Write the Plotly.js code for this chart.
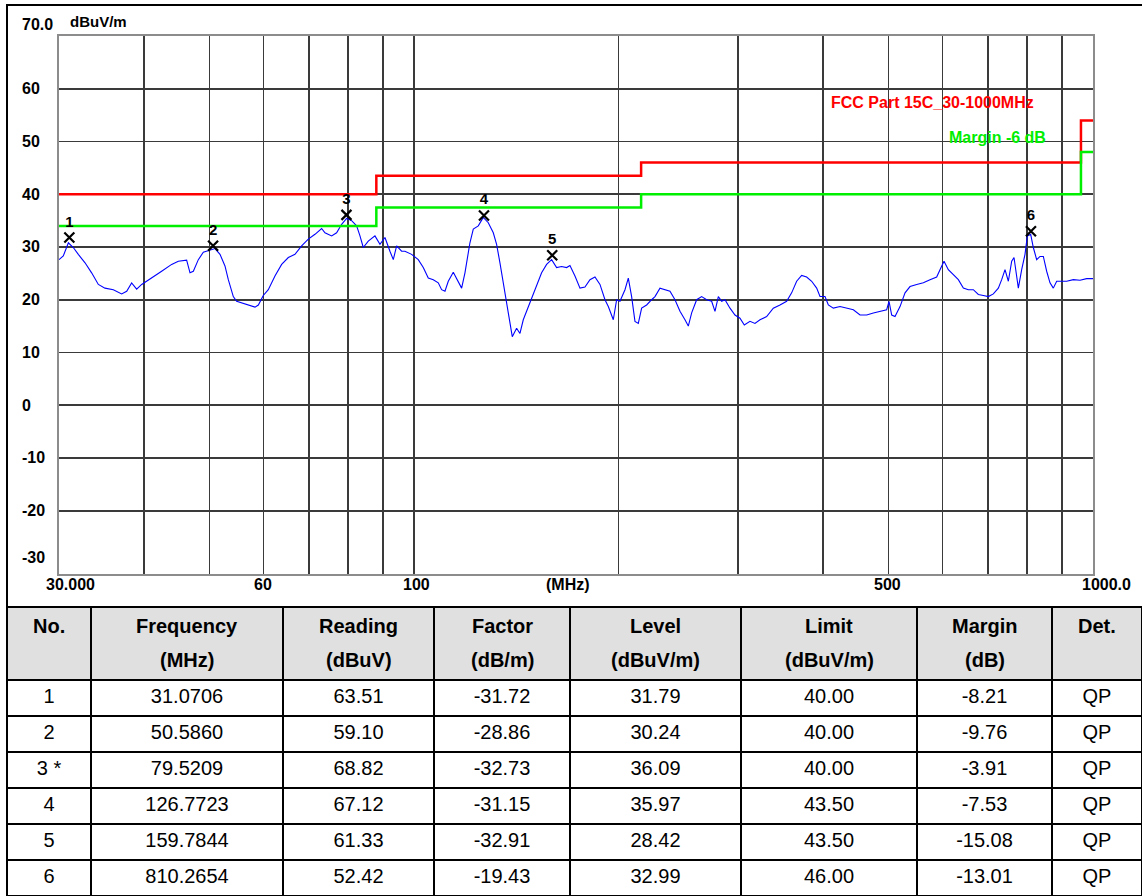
<!DOCTYPE html>
<html><head><meta charset="utf-8">
<script src="https://cdn.plot.ly/plotly-3.0.1.min.js"></script>
<style>html,body{margin:0;padding:0;background:#fff;} #chart{width:1142px;height:896px;}</style>
</head><body><div id="chart"></div>
<script>
// ---- spectrum trace (MHz, dBuV/m) ----
const traceFreq = [30.00,30.44,30.97,31.49,32.03,32.77,33.51,34.28,35.06,36.07,37.10,37.74,38.38,39.04,39.71,41.08,42.49,43.96,44.96,46.25,46.78,47.31,48.12,48.94,50.34,50.92,51.79,52.67,53.27,54.18,54.80,55.74,57.01,58.31,58.98,59.98,61.01,62.40,63.83,65.29,66.78,68.31,69.87,71.47,73.10,73.93,75.62,76.91,78.23,79.57,80.93,82.31,83.25,84.19,85.63,87.59,89.09,90.61,92.16,93.21,94.27,95.88,
96.97,99.19,101.45,103.19,104.95,106.75,108.57,109.81,111.06,112.32,114.24,115.54,117.52,118.85,120.88,122.26,124.35,126.47,128.64,130.84,132.32,133.83,135.35,136.89,138.44,139.54,141.61,143.22,144.85,147.32,149.00,151.55,154.14,156.78,159.46,162.19,164.96,167.78,169.69,172.60,175.55,178.55,181.61,184.71,187.87,191.09,193.26,196.56,198.80,201.06,204.50,206.82,209.17,211.55,213.96,216.39,220.09,223.86,226.40,230.27,234.21,238.22,242.29,246.44,250.65,253.50,256.39,260.77,265.23,269.77,274.38,277.50,280.66,283.85,287.08,291.99,296.96,302.04,306.51,
312.45,317.81,323.25,330.64,338.19,345.93,353.83,359.88,366.04,372.30,378.68,385.16,391.76,396.21,403.00,407.58,414.55,424.03,433.73,443.65,453.79,464.17,474.78,485.64,496.75,500.7,505.25,510.99,519.74,528.64,537.67,549.96,562.53,575.38,588.53,595.22,603.34,612.27,622.74,633.39,644.22,655.24,666.44,677.84,689.43,701.22,713.21,725.41,733.67,742.02,750.45,759.00,765.0,771.96,776.33,785.17,794.08,800.4,809.5,816.8,826.1,835.5,845.0,854.6,864.3,874.1,884.1,899.2,914.6,935.5,956.9,978.7,1000];
const traceLevel = [27.6,28.3,30.8,29.9,28.6,27.0,25.1,22.9,22.2,21.9,21.1,21.6,23.2,22.0,22.9,24.1,25.4,26.7,27.3,27.5,25.1,25.4,27.6,29.0,29.4,29.7,28.6,26.4,23.8,20.6,19.7,19.4,18.9,18.6,19.0,20.8,21.9,24.5,26.7,28.0,28.6,30.2,31.5,32.4,33.5,32.7,32.1,32.7,34.3,35.4,35.0,34.0,32.1,29.9,31.1,32.1,30.5,31.8,29.2,27.6,30.2,29.2,
29.2,28.6,27.6,26.1,24.1,23.8,23.2,21.9,21.6,23.5,25.2,24.1,22.2,25.1,30.8,33.4,34.0,35.6,34.6,32.7,30.5,27.0,23.2,19.4,16.2,13.0,14.6,13.6,16.2,18.7,20.3,22.5,25.1,26.7,27.6,26.1,26.3,26.1,26.5,24.5,22.2,22.4,23.8,24.3,22.9,20.0,18.7,16.2,20.0,19.7,21.9,24.1,20.6,15.9,15.5,18.4,19.0,20.0,20.6,22.2,21.9,21.6,20.0,17.8,16.2,15.0,17.5,20.0,20.6,20.0,19.7,17.8,20.6,19.7,20.0,18.4,17.1,16.5,15.2,
15.9,15.5,16.2,16.8,18.4,19.0,19.7,21.3,23.5,24.6,24.3,23.5,22.2,20.6,20.6,19.0,18.4,18.7,18.4,18.1,17.1,17.1,17.5,17.8,18.1,19.7,17.1,16.8,18.7,21.3,22.5,22.9,23.2,23.8,24.3,25.7,27.3,25.7,24.8,23.8,22.2,21.9,21.9,21.0,20.8,20.6,21.1,22.2,23.8,25.7,23.5,27.3,28.0,24.5,22.2,25.7,28.6,32.1,32.4,29.9,27.6,28.2,28.2,25.4,23.2,22.2,23.5,23.5,23.5,23.8,23.7,24.0,24.0];

// ---- limit lines ----
const limitFreq = [30, 88, 216, 960, 1000];
const limitLevel = [40, 43.5, 46, 54, 54];
const marginLevel = [34, 37.5, 40, 48, 48];

// ---- peak table ----
const peakNo = ['1', '2', '3 *', '4', '5', '6'];
const peakFreq = [31.0706, 50.5860, 79.5209, 126.7723, 159.7844, 810.2654];
const peakReading = [63.51, 59.10, 68.82, 67.12, 61.33, 52.42];
const peakFactor = [-31.72, -28.86, -32.73, -31.15, -32.91, -19.43];
const peakLevel = [31.79, 30.24, 36.09, 35.97, 28.42, 32.99];
const peakLimit = [40.00, 40.00, 40.00, 43.50, 43.50, 46.00];
const peakMargin = [-8.21, -9.76, -3.91, -7.53, -15.08, -13.01];
const peakDet = ['QP', 'QP', 'QP', 'QP', 'QP', 'QP'];
const headerNames = ['No.', 'Frequency', 'Reading', 'Factor', 'Level', 'Limit', 'Margin', 'Det.'];
const headerUnits = ['', '(MHz)', '(dBuV)', '(dB/m)', '(dBuV/m)', '(dBuV/m)', '(dB)', ''];

// ---- axis labels ----
const xGridVals = [40, 50, 60, 70, 80, 90, 100, 200, 300, 400, 500, 600, 700, 800, 900];
const yGridVals = [-20, -10, 0, 10, 20, 30, 40, 50, 60];
const yTickLabels = ['60', '50', '40', '30', '20', '10', '0', '-10', '-20', '-30'];
const yTickLabelVals = [60, 50, 40, 30, 20, 10, 0, -10, -20, -28.9];
const xTickLabels = ['30.000', '60', '100', '(MHz)', '500', '1000.0'];
const xTickLabelPos = [70, 263, 416, 568, 887, 1106];

const W = 1142, H = 896;
const px = v => v / W;
const py = v => 1 - v / H;
const boldFont = (size, color) => ({family: 'Liberation Sans, Arial, sans-serif', size: size, color: color || '#000', weight: 'bold'});

// table geometry
const tableLeft = 7;
const colWidths = [84, 192, 151, 136, 171, 176, 135, 90];
const colCenters = [];
colWidths.reduce((acc, w) => { colCenters.push(acc + w / 2); return acc + w; }, tableLeft);

const traces = [
  {type: 'scatter', mode: 'lines', x: traceFreq, y: traceLevel,
   line: {color: '#0000ff', width: 1.1}, hoverinfo: 'skip'},
  {type: 'scatter', mode: 'lines', x: limitFreq, y: limitLevel,
   line: {color: '#ff0000', width: 2.5, shape: 'hv'}, hoverinfo: 'skip'},
  {type: 'scatter', mode: 'lines', x: limitFreq, y: marginLevel,
   line: {color: '#00ee00', width: 2.5, shape: 'hv'}, hoverinfo: 'skip'},
  {type: 'scatter', mode: 'markers+text', x: peakFreq, y: peakLevel,
   text: peakNo.map(s => s.replace(' *', '')), textposition: 'top center',
   textfont: boldFont(15),
   marker: {symbol: 'x-thin-open', size: 10, color: '#000', line: {color: '#000', width: 2.2}},
   hoverinfo: 'skip'},
  {type: 'table',
   domain: {x: [px(tableLeft), 1], y: [0, 289 / H]},
   columnwidth: colWidths,
   header: {values: headerNames.map(() => ''), height: 73,
     align: 'center', fill: {color: '#e0e0e0'}, line: {color: '#000', width: 2},
     font: {family: 'Liberation Sans, Arial, sans-serif', size: 20, color: '#000'}},
   cells: {values: [peakNo, peakFreq.map(v => v.toFixed(4)), peakReading.map(v => v.toFixed(2)),
       peakFactor.map(v => v.toFixed(2)), peakLevel.map(v => v.toFixed(2)), peakLimit.map(v => v.toFixed(2)),
       peakMargin.map(v => v.toFixed(2)), peakDet],
     height: 36, align: 'center', fill: {color: '#fff'}, line: {color: '#000', width: 2},
     font: {family: 'Liberation Sans, Arial, sans-serif', size: 20, color: '#000'}}
  }
];

const annotations = [];
yTickLabels.forEach((t, i) => annotations.push({text: t, xref: 'paper', yref: 'y', x: px(20), y: yTickLabelVals[i],
  xanchor: 'left', yanchor: 'middle', showarrow: false, font: boldFont(16)}));
xTickLabels.forEach((t, i) => annotations.push({text: t, xref: 'paper', yref: 'paper', x: px(xTickLabelPos[i]), y: py(584),
  xanchor: 'center', yanchor: 'middle', showarrow: false, font: boldFont(16)}));
annotations.push({text: '70.0', xref: 'paper', yref: 'paper', x: px(20), y: py(24), xanchor: 'left', yanchor: 'middle', showarrow: false, font: boldFont(16)});
annotations.push({text: 'dBuV/m', xref: 'paper', yref: 'paper', x: px(68), y: py(22), xanchor: 'left', yanchor: 'middle', showarrow: false, font: boldFont(15)});
annotations.push({text: 'FCC Part 15C_30-1000MHz', xref: 'paper', yref: 'paper', x: px(829), y: py(103), xanchor: 'left', yanchor: 'middle', showarrow: false, font: boldFont(16, '#ff0000')});
annotations.push({text: 'Margin -6 dB', xref: 'paper', yref: 'paper', x: px(947), y: py(137), xanchor: 'left', yanchor: 'middle', showarrow: false, font: boldFont(16, '#00ee00')});
// table header text, two centred lines per column
headerNames.forEach((t, i) => annotations.push({text: t, xref: 'paper', yref: 'paper', x: px(colCenters[i]), y: py(626),
  xanchor: 'center', yanchor: 'middle', showarrow: false, font: boldFont(20)}));
headerUnits.forEach((t, i) => { if (t) annotations.push({text: t, xref: 'paper', yref: 'paper', x: px(colCenters[i]), y: py(660),
  xanchor: 'center', yanchor: 'middle', showarrow: false, font: boldFont(20)}); });

const layout = {
  width: W, height: H,
  margin: {l: 0, r: 0, t: 0, b: 0, pad: 0},
  paper_bgcolor: '#fff', plot_bgcolor: '#fff',
  showlegend: false,
  xaxis: {type: 'log', domain: [px(59), px(1093)], range: [Math.log10(30), 3],
    tickmode: 'array', tickvals: xGridVals, showticklabels: false, ticks: '',
    showgrid: true, gridcolor: '#3a3a3a', gridwidth: 1.6, zeroline: false,
    showline: true, mirror: true, linecolor: '#8c8c8c', linewidth: 2},
  yaxis: {domain: [py(574), py(36)], range: [-32, 70],
    tickmode: 'array', tickvals: yGridVals, showticklabels: false, ticks: '',
    showgrid: true, gridcolor: '#3a3a3a', gridwidth: 1.6, zeroline: false,
    showline: true, mirror: true, linecolor: '#8c8c8c', linewidth: 2},
  shapes: [
    {type: 'rect', xref: 'paper', yref: 'paper', x0: px(7), x1: 1.01, y0: py(607), y1: py(5),
     line: {color: '#000', width: 2}, layer: 'below'}
  ],
  annotations: annotations
};

Plotly.newPlot('chart', traces, layout, {staticPlot: true, displayModeBar: false});
</script>
</body></html>
